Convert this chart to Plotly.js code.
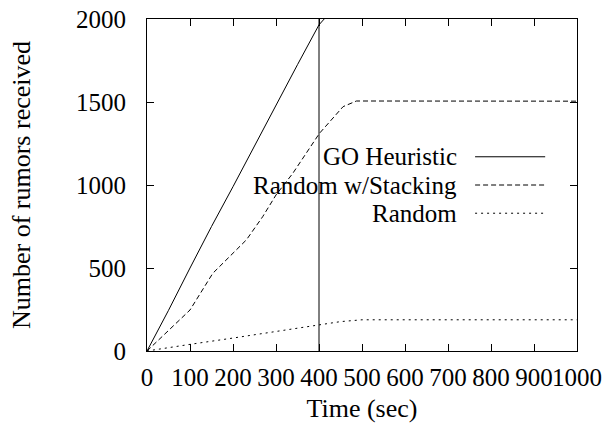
<!DOCTYPE html>
<html><head><meta charset="utf-8">
<script src="https://cdn.plot.ly/plotly-3.0.1.min.js"></script>
<style>html,body{margin:0;padding:0;background:#fff;}</style>
</head><body>
<div id="chart" style="width:608px;height:427px;"></div>
<script>
var goX = [0, 50, 100, 150, 200, 250, 300, 350, 400, 420, 400, 400];
var goY = [0, 245, 500, 750, 990, 1235, 1485, 1725, 1965, 2023, 2060, 0];
var stackX = [0, 50, 100, 153, 200, 231, 269, 300, 339, 370, 401, 456, 487, 1000];
var stackY = [0, 125, 247, 468, 588, 669, 809, 940, 1070, 1191, 1311, 1472, 1506, 1505];
var randX = [0, 50, 100, 200, 300, 400, 450, 500, 1000];
var randY = [0, 18, 40, 78, 117, 157, 177, 188, 188];
var seriesNames = ["GO Heuristic", "Random w/Stacking", "Random"];
var xTicks = [0, 100, 200, 300, 400, 500, 600, 700, 800, 900, 1000];
var yTicks = [0, 500, 1000, 1500, 2000];

var font = "Liberation Serif, Times New Roman, serif";
var fs = 26;
var dashes = ["solid", "5px,3px", "2px,4px"];
var traces = [
  {x: goX, y: goY, name: seriesNames[0]},
  {x: stackX, y: stackY, name: seriesNames[1]},
  {x: randX, y: randY, name: seriesNames[2]}
].map(function(t, i){
  t.type = "scatter"; t.mode = "lines"; t.showlegend = false;
  t.line = {color: "#000", width: 1, dash: dashes[i]};
  return t;
});

var legY = [0.585, 0.5, 0.415];
var annotations = [], shapes = [];
seriesNames.forEach(function(n, i){
  annotations.push({xref: "paper", yref: "paper", x: 0.7235, y: legY[i], xanchor: "right", yanchor: "middle",
    text: n, showarrow: false, valign: "middle", borderpad: 0,
    font: {family: font, size: 25, color: "#000"}});
  shapes.push({type: "line", xref: "paper", yref: "paper", x0: 0.763, x1: 0.926, y0: legY[i], y1: legY[i],
    line: {color: "#000", width: 1, dash: dashes[i]}});
});

var axisCommon = {
  showgrid: false, zeroline: false, showline: true, mirror: "ticks", linecolor: "#000", linewidth: 1,
  ticks: "inside", ticklen: 7, tickcolor: "#000", tickwidth: 1, tickangle: 0,
  tickfont: {family: font, size: 25, color: "#000"}
};
var layout = {
  width: 608, height: 427,
  margin: {l: 147, r: 31, t: 19, b: 76},
  paper_bgcolor: "#fff", plot_bgcolor: "#fff",
  xaxis: Object.assign({}, axisCommon, {range: [0, 1000], tickvals: xTicks, ticktext: xTicks.map(String),
    ticklabelstandoff: 4,
    title: {text: "Time (sec)", font: {family: font, size: fs, color: "#000"}, standoff: 8}}),
  yaxis: Object.assign({}, axisCommon, {range: [0, 2000], tickvals: yTicks, ticktext: yTicks.map(String),
    ticklabelstandoff: 15,
    title: {text: "Number of rumors received", font: {family: font, size: fs, color: "#000"}, standoff: 37}}),
  annotations: annotations, shapes: shapes
};
Plotly.newPlot("chart", traces, layout, {staticPlot: true, displayModeBar: false});
</script>
</body></html>
